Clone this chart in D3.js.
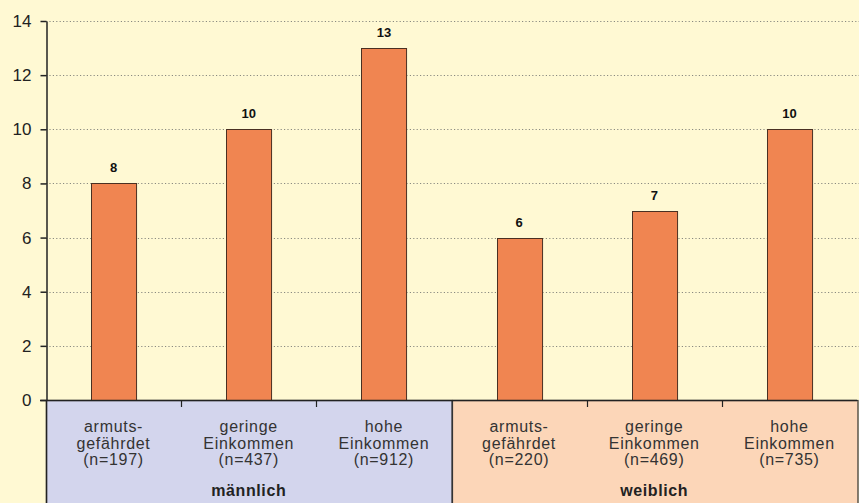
<!DOCTYPE html>
<html>
<head>
<meta charset="utf-8">
<script src="https://cdn.jsdelivr.net/npm/d3@7"></script>
<style>
  body { margin: 0; background: #fff9d3; }
  svg { display: block; font-family: "Liberation Sans", Arial, sans-serif; }
</style>
</head>
<body>
<div id="chart"></div>
<script>
// data
const groups = ['männlich', 'weiblich']
const categories = ['armuts-|gefährdet', 'geringe|Einkommen', 'hohe|Einkommen',
                    'armuts-|gefährdet', 'geringe|Einkommen', 'hohe|Einkommen']
const categoryGroup = [0, 0, 0, 1, 1, 1]
const sampleSizes = [197, 437, 912, 220, 469, 735]
const values = [8, 10, 13, 6, 7, 10]
const yTicks = [0, 2, 4, 6, 8, 10, 12, 14]

const width = 859
const height = 503
const plotLeft = 46
const plotRight = 857
const plotTop = 21
const plotBottom = 400

const groupColors = ['#d3d5ed', '#fcd6b8']

const svg = d3.select('#chart').append('svg')
    .attr('width', width)
    .attr('height', height)

svg.append('rect').attr('width', width).attr('height', height).attr('fill', '#fff9d3')

const keys = categories.map((d, i) => i)
const x = d3.scaleBand().domain(keys).range([plotLeft, plotRight])
const y = d3.scaleLinear().domain([0, 14]).range([plotBottom, plotTop])

// cut-off axis title at the very top
svg.append('text')
    .attr('x', 180).attr('y', -3)
    .attr('text-anchor', 'end')
    .style('font-size', '16px')
    .attr('fill', '#333')
    .text('Anteil (in Prozent)')

// dotted grid
svg.append('g').selectAll('line').data(yTicks.filter(d => d > 0))
    .join('line')
    .attr('x1', plotLeft).attr('x2', width)
    .attr('y1', d => Math.round(y(d)) + 0.5).attr('y2', d => Math.round(y(d)) + 0.5)
    .attr('stroke', '#8a8a80')
    .attr('stroke-width', 1)
    .attr('stroke-dasharray', '1.2,2.2')

// group boxes below the axis
groups.forEach(function(g, gi){
    let idx = keys.filter(k => categoryGroup[k] == gi)
    let x0 = x(idx[0])
    let x1 = x(idx[idx.length - 1]) + x.bandwidth()
    svg.append('rect')
        .attr('x', Math.round(x0) + 0.5)
        .attr('y', plotBottom + 0.5)
        .attr('width', x1 - x0)
        .attr('height', 120)
        .attr('fill', groupColors[gi])
        .attr('stroke', '#333')
        .attr('stroke-width', 1.2)
    svg.append('text')
        .attr('x', (x0 + x1) / 2)
        .attr('y', 496)
        .attr('text-anchor', 'middle')
        .style('font-size', '16px')
        .style('font-weight', 'bold')
        .style('letter-spacing', '0.6px')
        .attr('fill', '#222')
        .text(g)
})

// bars
const barW = x.bandwidth() / 3
svg.append('g').selectAll('rect').data(keys)
    .join('rect')
    .attr('x', d => Math.round(x(d) + (x.bandwidth() - barW) / 2) + 0.5)
    .attr('y', d => Math.round(y(values[d])) + 0.5)
    .attr('width', barW)
    .attr('height', d => Math.round(y(0)) - Math.round(y(values[d])))
    .attr('fill', '#f08551')
    .attr('stroke', '#4a3022')
    .attr('stroke-width', 1)

// value labels
svg.append('g').selectAll('text').data(keys)
    .join('text')
    .attr('x', d => x(d) + x.bandwidth() / 2)
    .attr('y', d => y(values[d]) - 11)
    .attr('text-anchor', 'middle')
    .style('font-size', '13px')
    .style('font-weight', 'bold')
    .attr('fill', '#111')
    .text(d => values[d])

// category labels
const catText = svg.append('g').selectAll('text').data(keys)
    .join('text')
    .attr('text-anchor', 'middle')
    .style('font-size', '16px')
    .style('letter-spacing', '0.7px')
    .attr('fill', '#333')
catText.each(function(d){
    let lines = categories[d].split('|').concat(['(n=' + sampleSizes[d] + ')'])
    let t = d3.select(this)
    lines.forEach(function(l, li){
        t.append('tspan')
            .attr('x', x(d) + x.bandwidth() / 2)
            .attr('y', 432 + li * 16.5)
            .text(l)
    })
})

// y axis
const yAxis = svg.append('g')
    .attr('transform', 'translate(' + (plotLeft + 0.5) + ',0)')
    .call(d3.axisLeft(y).tickValues(yTicks).tickSize(6).tickPadding(9).tickSizeOuter(0))
yAxis.select('.domain').attr('stroke', '#222').attr('stroke-width', 1.5)
yAxis.selectAll('.tick line').attr('stroke', '#222').attr('stroke-width', 1.5)
yAxis.selectAll('.tick text')
    .style('font-size', '17px')
    .style('font-family', '"Liberation Sans", Arial, sans-serif')
    .attr('fill', '#222')

// x axis line and in-group separators
svg.append('line')
    .attr('x1', plotLeft - 6).attr('x2', plotRight)
    .attr('y1', plotBottom + 0.5).attr('y2', plotBottom + 0.5)
    .attr('stroke', '#222').attr('stroke-width', 1.5)
svg.append('line')
    .attr('x1', plotLeft + 0.5).attr('x2', plotLeft + 0.5)
    .attr('y1', plotBottom).attr('y2', height)
    .attr('stroke', '#222').attr('stroke-width', 1.5)
svg.append('g').selectAll('line')
    .data(keys.filter(k => k > 0 && categoryGroup[k] == categoryGroup[k - 1]))
    .join('line')
    .attr('x1', d => Math.round(x(d)) + 0.5).attr('x2', d => Math.round(x(d)) + 0.5)
    .attr('y1', plotBottom).attr('y2', plotBottom + 7)
    .attr('stroke', '#222').attr('stroke-width', 1.2)
</script>
</body>
</html>
